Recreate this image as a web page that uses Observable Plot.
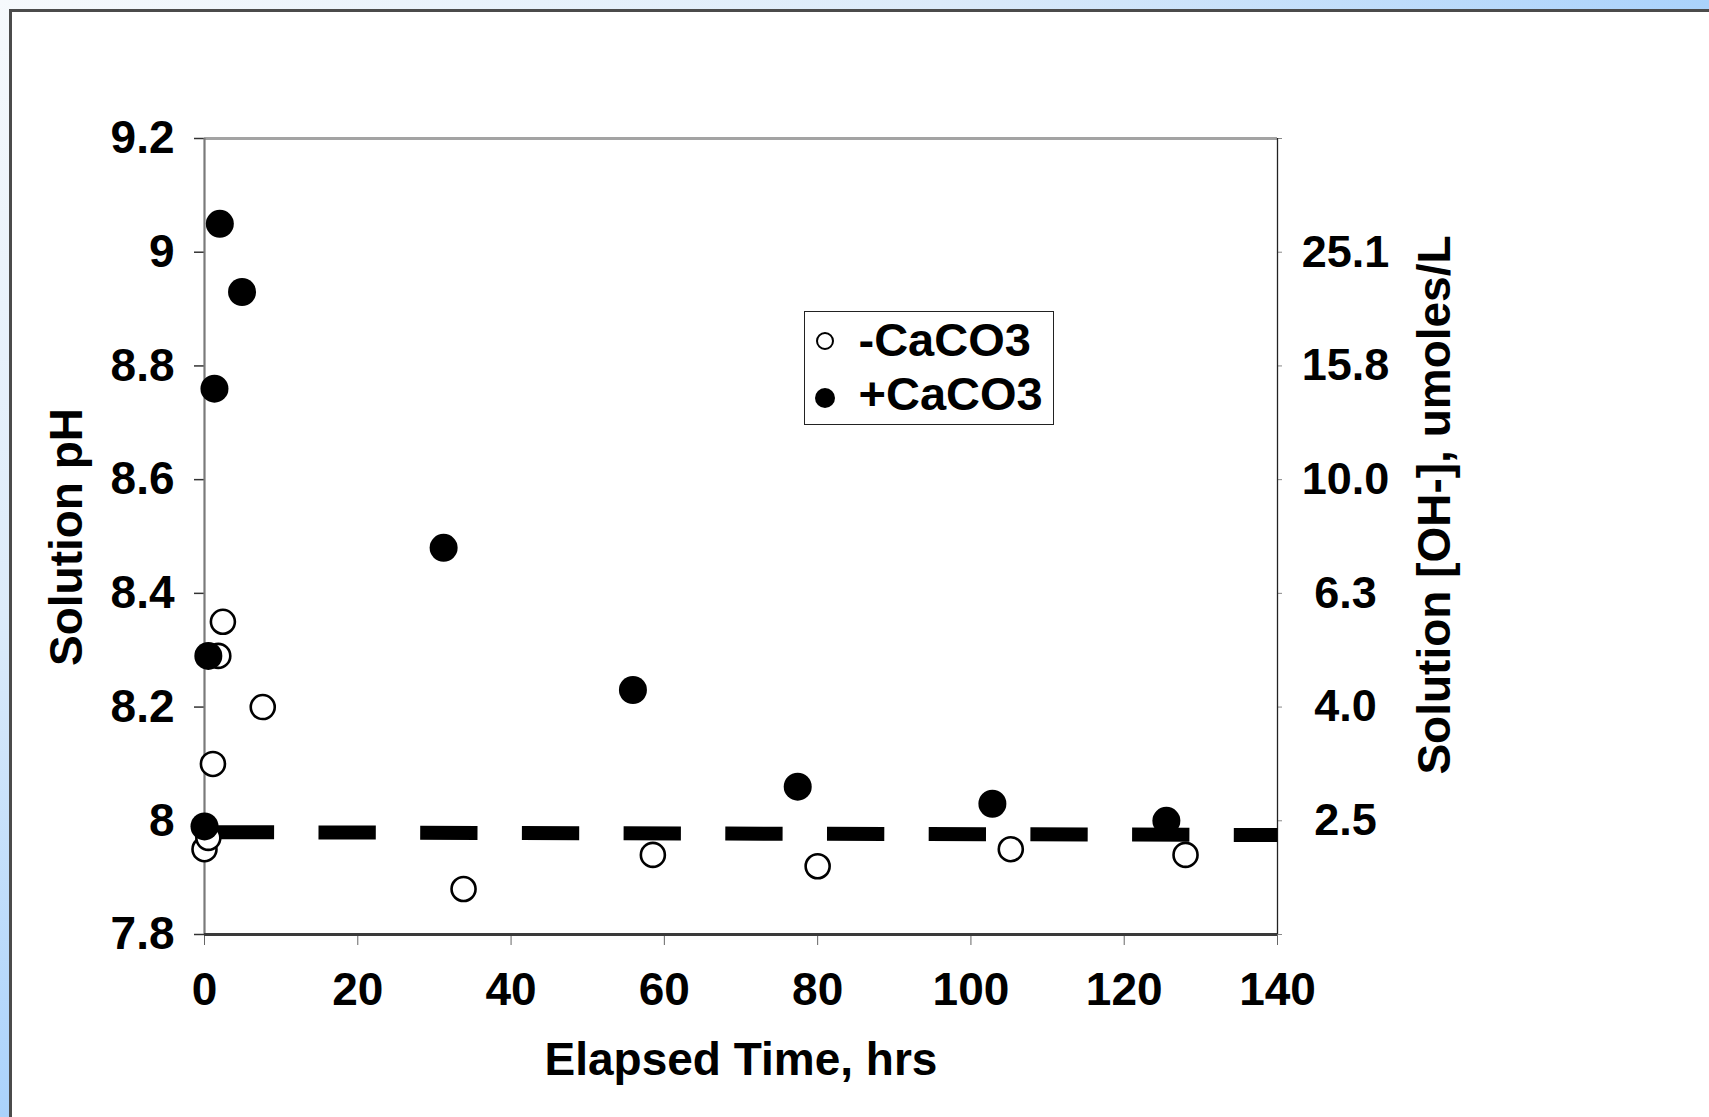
<!DOCTYPE html>
<html>
<head>
<meta charset="utf-8">
<script src="https://cdn.jsdelivr.net/npm/d3@7"></script>
<script src="https://cdn.jsdelivr.net/npm/@observablehq/plot@0.6"></script>
<style>
  html, body { margin: 0; padding: 0; }
  body {
    width: 1709px; height: 1117px; overflow: hidden; position: relative;
    background: radial-gradient(ellipse 1709px 1117px at 0 0, #f6f9fc 0%, #dcebfa 55%, #aad2fb 100%);
    font-family: "Liberation Sans", Arial, Helvetica, sans-serif;
    font-weight: bold; color: #000;
  }
  #panel {
    position: absolute; left: 9px; top: 9px; right: 0; bottom: 0;
    background: #fff; border-left: 3px solid #4b4b4b; border-top: 3px solid #4b4b4b;
  }
  #chart { position: absolute; left: 12px; top: 12px; }
  .title { position: absolute; white-space: nowrap; font-size: 46px; line-height: 1; }
  #legend {
    position: absolute; left: 804px; top: 311px; width: 250px; height: 114px;
    box-sizing: border-box; border: 1.5px solid #222; background: #fff;
  }
  .lg-text { position: absolute; font-size: 47px; line-height: 1; white-space: nowrap; }
  .lg-mark { position: absolute; border-radius: 50%; box-sizing: border-box; }
</style>
</head>
<body>
<div id="panel"></div>
<div id="chart"></div>
<div class="title" id="xtitle" style="left:741px; top:1036px; transform: translateX(-50%);">Elapsed Time, hrs</div>
<div class="title" id="ytitle" style="left:66px; top:537px; transform: translate(-50%,-50%) rotate(-90deg);">Solution pH</div>
<div class="title" id="y2title" style="left:1434px; top:505px; transform: translate(-50%,-50%) rotate(-90deg);">Solution [OH-], umoles/L</div>
<div id="legend"></div>
<script>
// ---- data ----
const xTicks = [0, 20, 40, 60, 80, 100, 120, 140];
const yTicks = [7.8, 8.0, 8.2, 8.4, 8.6, 8.8, 9.0, 9.2];
const yTickLabels = ["7.8", "8", "8.2", "8.4", "8.6", "8.8", "9", "9.2"];
const ohTickPH = [9.0, 8.8, 8.6, 8.4, 8.2, 8.0];
const ohTickLabels = ["25.1", "15.8", "10.0", "6.3", "4.0", "2.5"];

// -CaCO3 (open circles)
const noCaTime = [0, 0.5, 1.1, 1.8, 2.4, 7.6, 33.8, 58.5, 80.0, 105.2, 128.0];
const noCaPH   = [7.95, 7.97, 8.10, 8.29, 8.35, 8.20, 7.88, 7.94, 7.92, 7.95, 7.94];
// +CaCO3 (filled circles)
const caTime = [0, 0.5, 1.3, 2.0, 4.9, 31.2, 55.9, 77.4, 102.8, 125.5];
const caPH   = [7.99, 8.29, 8.76, 9.05, 8.93, 8.48, 8.23, 8.06, 8.03, 8.00];
// dashed reference line
const refTime = [0, 140];
const refPH = [7.98, 7.975];

const seriesNames = ["-CaCO3", "+CaCO3"];

const noCa = noCaTime.map((t, i) => ({t, ph: noCaPH[i]}));
const ca = caTime.map((t, i) => ({t, ph: caPH[i]}));
const ref = refTime.map((t, i) => ({t, ph: refPH[i]}));

const near = (a, b) => Math.abs(a - b) < 1e-9;
const fmtLeft = d => { const i = yTicks.findIndex(v => near(v, d)); return i < 0 ? "" : yTickLabels[i]; };
const fmtRight = d => { const i = ohTickPH.findIndex(v => near(v, d)); return i < 0 ? "" : ohTickLabels[i]; };

const font = "'Liberation Sans', Arial, Helvetica, sans-serif";

const chart = Plot.plot({
  width: 1697,
  height: 1105,
  marginLeft: 192,
  marginRight: 432,
  marginTop: 126,
  marginBottom: 183,
  x: {domain: [0, 140]},
  y: {domain: [7.8, 9.2]},
  style: {fontFamily: font, fontWeight: "bold", fontSize: "46px", color: "black", background: "white", overflow: "visible"},
  marks: [
    Plot.axisX({ticks: xTicks, tickSize: 11, tickPadding: 27, stroke: "#666", strokeWidth: 1, fill: "black",
      tickFormat: d => String(d), label: null, fontSize: 46, fontWeight: "bold"}),
    Plot.axisY({anchor: "left", ticks: yTicks, tickSize: 10, tickPadding: 20, stroke: "#333", strokeWidth: 1.5, fill: "black",
      tickFormat: fmtLeft, label: null, fontSize: 46, fontWeight: "bold"}),
    Plot.axisY({anchor: "right", ticks: yTicks, tickSize: 4, tickPadding: 64, textAnchor: "middle", stroke: "#888", strokeWidth: 1, fill: "black",
      tickFormat: fmtRight, label: null, fontSize: 45, fontWeight: "bold"}),
    Plot.ruleY([9.2], {stroke: "#a3a3a3", strokeWidth: 3}),
    Plot.ruleX([140], {stroke: "#222", strokeWidth: 1.3}),
    Plot.ruleX([0], {stroke: "#7a7a7a", strokeWidth: 2.2}),
    Plot.ruleY([7.8], {stroke: "#3a3a3a", strokeWidth: 3}),
    Plot.line(ref, {x: "t", y: "ph", stroke: "black", strokeWidth: 14, strokeLinecap: "butt",
      strokeDasharray: "57.3,44.4", strokeDashoffset: 89.4}),
    Plot.dot(noCa, {x: "t", y: "ph", r: 12, stroke: "black", strokeWidth: 2.6, fill: "white"}),
    Plot.dot(ca, {x: "t", y: "ph", r: 14, fill: "black", stroke: "none"})
  ]
});
document.getElementById("chart").appendChild(chart);

// ---- legend ----
const legend = document.getElementById("legend");
const lgX = 804, lgY = 311, lgFont = 47;
const rows = [
  {name: seriesNames[0], cx: 825, cy: 341, r: 9, open: true, baseline: 356},
  {name: seriesNames[1], cx: 825, cy: 398, r: 10, open: false, baseline: 410}
];
rows.forEach(row => {
  const m = document.createElement("div");
  m.className = "lg-mark";
  m.style.left = (row.cx - row.r - lgX - 1.5) + "px";
  m.style.top = (row.cy - row.r - lgY - 1.5) + "px";
  m.style.width = (2 * row.r) + "px";
  m.style.height = (2 * row.r) + "px";
  if (row.open) { m.style.border = "2.2px solid #000"; m.style.background = "#fff"; }
  else { m.style.background = "#000"; }
  legend.appendChild(m);
  const t = document.createElement("div");
  t.className = "lg-text";
  t.textContent = row.name;
  t.style.left = (859 - lgX - 1.5) + "px";
  t.style.top = (row.baseline - 0.8465 * lgFont - lgY - 1.5) + "px";
  legend.appendChild(t);
});
</script>
</body>
</html>
